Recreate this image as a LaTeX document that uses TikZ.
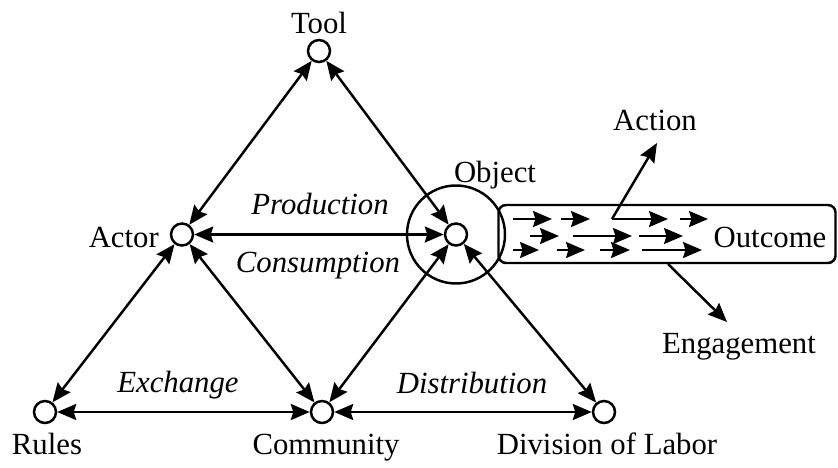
\documentclass[tikz,border=0pt]{standalone}
\usepackage{fontspec}
\setmainfont{Liberation Serif}
\usetikzlibrary{positioning,arrows.meta}

\begin{document}
\begin{tikzpicture}[>={Stealth[length=3.8mm,width=3.2mm,inset=0.5mm]},line width=1.4pt,
  dot/.style={draw,circle,minimum size=4.4mm,inner sep=0pt},
  txt/.style={font=\fontsize{17.5}{20}\selectfont,inner sep=0pt,anchor=base},
  rel/.style={txt,font=\fontsize{17.5}{20}\selectfont\itshape}]
\useasboundingbox (0,0) rectangle (16.76,9.34);
% the six corners of the activity system
\node[dot] (tool) at (6.38,8.32) {};
\node[dot] (actor) at (3.64,4.65) {};
\node[dot] (obj) at (9.12,4.65) {};
\node[dot] (rules) at (0.90,1.10) {};
\node[dot] (comm) at (6.44,1.10) {};
\node[dot] (div) at (12.08,1.10) {};
\node[draw,circle,minimum size=1.96cm] (ring) at (obj) {};
\node[draw,rounded corners=0.15cm,minimum width=6.74cm,minimum height=1.16cm] (outbox) at (13.34,4.66) {};
% labels
\node[txt] (toolT) at (6.38,8.68) {Tool};
\node[txt,anchor=base east] (actorT) at (3.20,4.40) {Actor};
\node[txt] (objT) at (9.90,5.70) {Object};
\node[txt] (rulesT) at (0.94,0.26) {Rules};
\node[txt] (commT) at (6.52,0.26) {Community};
\node[txt] (divT) at (12.14,0.26) {Division of Labor};
\node[txt] (outT) at (15.40,4.40) {Outcome};
\node[txt] (actT) at (13.10,6.74) {Action};
\node[txt] (engT) at (14.78,2.28) {Engagement};
\node[rel] (prod) at (6.40,5.06) {Production};
\node[rel] (cons) at (6.36,3.90) {Consumption};
\node[rel] (exch) at (3.56,1.50) {Exchange};
\node[rel] (distr) at (9.44,1.48) {Distribution};
% relations
\draw[<->] (tool) -- (actor);
\draw[<->] (tool) -- (obj);
\draw[<->] (actor) -- (obj);
\draw[<->] (actor) -- (rules);
\draw[<->] (actor) -- (comm);
\draw[<->] (obj) -- (comm);
\draw[<->] (obj) -- (div);
\draw[<->] (rules) -- (comm);
\draw[<->] (comm) -- (div);
% flow inside the outcome
\foreach \a/\b/\y in {10.26/11.04/4.96,11.22/11.80/4.96,12.24/13.36/4.96,13.60/14.16/4.96,
  10.60/11.18/4.62,11.46/12.64/4.62,12.78/13.66/4.62,
  10.26/10.78/4.34,11.14/11.70/4.34,12.00/12.60/4.34,12.84/14.04/4.34}
  \draw[->] (\a,\y) -- (\b,\y);
\coordinate (actFrom) at (12.24,4.96);
\coordinate (actTip) at (13.14,6.48);
\coordinate (engFrom) at (13.36,4.06);
\coordinate (engTip) at (14.54,2.90);
\draw[->] (actFrom) -- (actTip);
\draw[->] (engFrom) -- (engTip);
\end{tikzpicture}
\end{document}
